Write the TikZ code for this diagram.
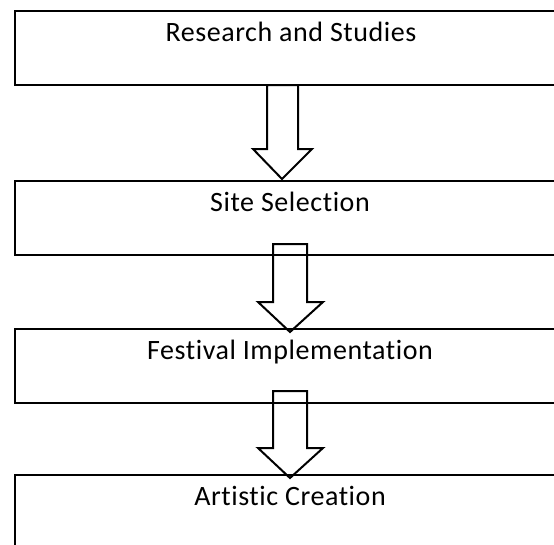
\documentclass[tikz,border=0pt]{standalone}
\usepackage{fontspec}
\setmainfont{Carlito}[RawFeature={-liga}]
\usetikzlibrary{calc}
\begin{document}
\begin{tikzpicture}[x=1pt,y=-1pt,
  stagebox/.style={draw, line width=2.5pt, minimum width=550pt, minimum height=74pt,
    inner sep=0pt, outer sep=0pt},
  stagetext/.style={anchor=base, font=\addfontfeatures{LetterSpace=2}\fontsize{28}{32}\selectfont, inner sep=0pt},
  barrow/.style={draw, line width=2pt, line join=miter}]
\useasboundingbox (0,0) rectangle (554,544);
\clip (0,0) rectangle (554,544);
\node[stagebox] (b1) at (290,48) {};
\node[stagebox] (b2) at (290,218) {};
\node[stagebox] (b3) at (290,366) {};
\node[stagebox] (b4) at (290,512) {};
\node[stagetext] (t1) at ($(b1.north)+(1,30)$) {Research and Studies};
\node[stagetext] (t2) at ($(b2.north)+(0,30)$) {Site Selection};
\node[stagetext] (t3) at ($(b3.north)+(0,30)$) {Festival Implementation};
\node[stagetext] (t4) at ($(b4.north)+(0,30)$) {Artistic Creation};
% arrow 1
\draw[barrow] ($(b1.south)+(-23,0)$) -- ($(b1.south)+(8,0)$) -- ($(b1.south)+(8,64)$)
  -- ($(b1.south)+(22,64)$) -- ($(b2.north)+(-8,-2)$) -- ($(b1.south)+(-37,64)$)
  -- ($(b1.south)+(-23,64)$) -- cycle;
% arrow 2
\draw[barrow] ($(b2.south)+(-17,-11)$) -- ($(b2.south)+(17,-11)$) -- ($(b2.south)+(17,47)$)
  -- ($(b2.south)+(33,47)$) -- ($(b3.north)+(0,3)$) -- ($(b2.south)+(-32,47)$)
  -- ($(b2.south)+(-17,47)$) -- cycle;
% arrow 3
\draw[barrow] ($(b3.south)+(-17,-12)$) -- ($(b3.south)+(17,-12)$) -- ($(b3.south)+(17,45)$)
  -- ($(b3.south)+(33,45)$) -- ($(b4.north)+(0,3)$) -- ($(b3.south)+(-32,45)$)
  -- ($(b3.south)+(-17,45)$) -- cycle;
\end{tikzpicture}
\end{document}
